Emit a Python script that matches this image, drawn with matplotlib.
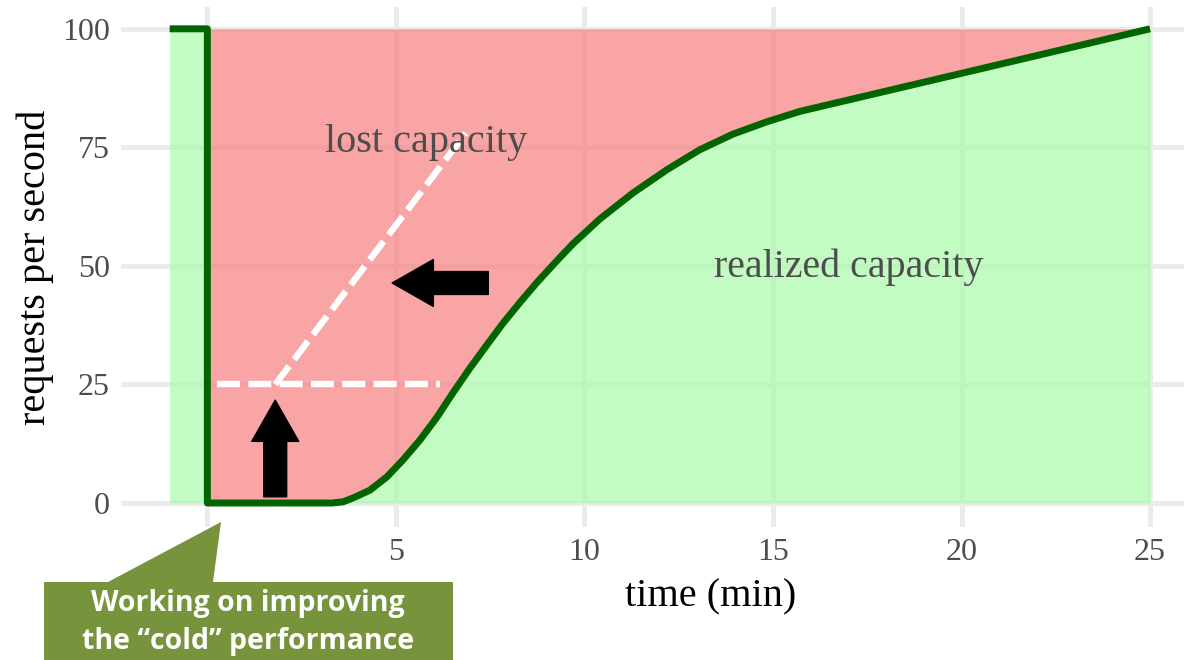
"""
Montée en charge d'un service après démarrage à froid :
capacité réalisée (sous la courbe) vs capacité perdue (au-dessus).
"""

import matplotlib
matplotlib.use("Agg")  # pas d'affichage
import matplotlib.pyplot as plt
from matplotlib.patches import FancyArrowPatch, Polygon

# Courbe requests/s en fonction du temps (min)
time_min = [-1, 0, 0, 3.3, 3.6, 3.86, 4.31, 4.76, 5.19, 5.64, 6.09, 6.51,
            6.96, 7.41, 7.84, 8.29, 8.74, 9.27, 9.7, 10.41, 11.29, 12.19,
            13.06, 13.94, 14.84, 15.72, 20.1, 25.0]
rps = [100, 100, 0, 0, 0.25, 1.05, 2.7, 5.5, 9.1, 13.3, 18.1, 23.2,
       28.4, 33.3, 37.9, 42.3, 46.5, 51.1, 54.7, 59.9, 65.4, 70.3,
       74.5, 77.8, 80.4, 82.6, 90.8, 100]

x_ticks = [0, 5, 10, 15, 20, 25]
y_ticks = [0, 25, 50, 75, 100]

# pointillés blancs : seuil horizontal + pente cible
seuil_x = [0.25, 6.17]
seuil_y = [25, 25]
pente_x = [1.8, 6.85]
pente_y = [25, 78]

# flèches noires (départ, pointe)
fleche_haut = ((1.8, 1.3), (1.8, 21.7))
fleche_gauche = ((7.45, 46.4), (4.9, 46.4))

SERIF = ["Liberation Serif", "DejaVu Serif"]
SANS = ["Open Sans", "DejaVu Sans"]
W, H = 1184, 660


def main() -> None:
    fig = plt.figure(figsize=(W / 100, H / 100), dpi=100)
    ax = fig.add_axes([121 / W, 1 - 527 / H, 1 - 121 / W, 520 / H])

    ax.set_xlim(-2.29, 25.9)
    ax.set_ylim(-5.06, 104.6)
    ax.set_axisbelow(True)
    ax.grid(color="#EBEBEB", linewidth=3.6)
    for s in ax.spines.values():
        s.set_visible(False)
    ax.tick_params(length=0, pad=8, labelsize=23, labelcolor="#4D4D4D")
    ax.set_xticks(x_ticks)
    ax.set_yticks(y_ticks)
    for lab in ax.get_xticklabels() + ax.get_yticklabels():
        lab.set_family(SERIF)

    # zones
    ax.fill_between(time_min, 0, rps, color="#A8FCA8", alpha=0.7, lw=0, zorder=1)
    ax.fill_between(time_min, rps, 100, color="#F77F7F", alpha=0.7, lw=0, zorder=1)
    ax.plot(time_min, rps, color="#006400", lw=5, solid_capstyle="butt", zorder=3)

    # pointillés
    for xs, ys in [(seuil_x, seuil_y), (pente_x, pente_y)]:
        ax.plot(xs, ys, color="white", lw=4.6, dashes=(3.6, 1.3),
                dash_capstyle="butt", zorder=2)

    for a, b in [fleche_haut, fleche_gauche]:
        ax.add_patch(FancyArrowPatch(
            a, b, arrowstyle="simple,head_length=1.8,head_width=2.05,tail_width=1.0",
            mutation_scale=16.5, color="black", shrinkA=0, shrinkB=0, zorder=4))

    ax.text(5.8, 76, "lost capacity", family=SERIF, fontsize=29,
            color="#4D4D4D", ha="center", va="center", zorder=5)
    ax.text(17.0, 49.8, "realized capacity", family=SERIF, fontsize=28.8,
            color="#4D4D4D", ha="center", va="center", zorder=5)

    ax.set_xlabel("time (min)", family=SERIF, fontsize=29, color="black")
    ax.xaxis.label.set_va("center")
    ax.xaxis.set_label_coords((711 - 121) / (W - 121), (527 - 597) / 520)
    ax.set_ylabel("requests per second", family=SERIF, fontsize=29, color="black")
    ax.yaxis.label.set_va("center")
    ax.yaxis.set_label_coords((35 - 121) / (W - 121), 0.5)

    # bulle verte en bas à gauche
    pts = [(44, 660), (44, 582), (108, 582), (221, 522), (213, 582),
           (453, 582), (453, 660)]
    bulle = Polygon([(x / W, 1 - y / H) for x, y in pts], closed=True,
                    transform=fig.transFigure, facecolor="#77933C",
                    edgecolor="none", zorder=10)
    fig.patches.append(bulle)
    fig.text(248 / W, 1 - 603 / H, "Working on improving", color="white",
             fontsize=20.5, fontweight="bold", family=SANS,
             ha="center", va="center", zorder=11)
    fig.text(248 / W, 1 - 641 / H, "the \u201ccold\u201d performance", color="white",
             fontsize=20.5, fontweight="bold", family=SANS,
             ha="center", va="center", zorder=11)

    fig.savefig("out.png", dpi=100)


if __name__ == "__main__":
    main()
